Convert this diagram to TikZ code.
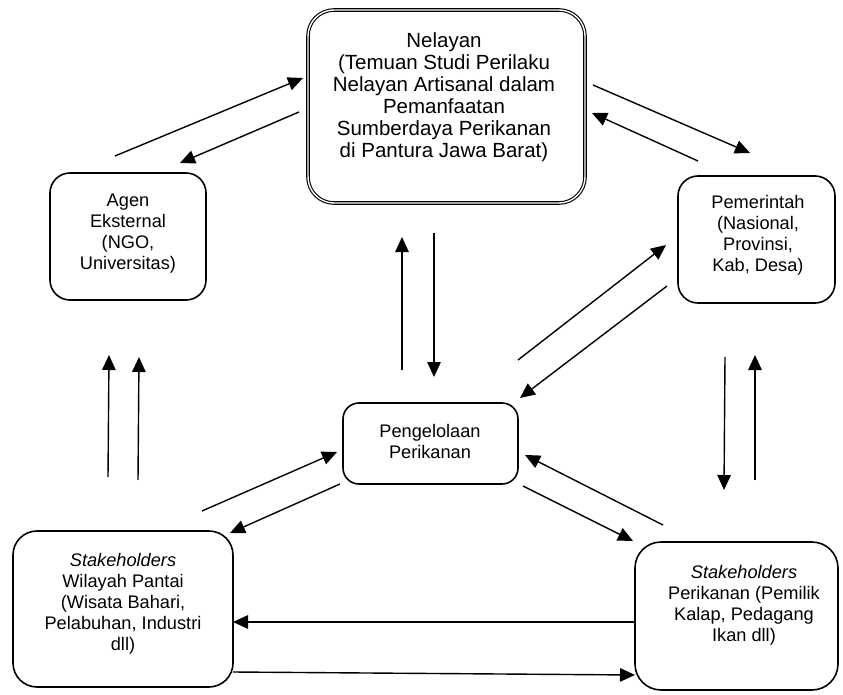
\documentclass[tikz,border=0pt]{standalone}
\usepackage{fontspec}
\setmainfont{Liberation Sans}
\usetikzlibrary{arrows.meta}
\begin{document}
\begin{tikzpicture}[x=1pt,y=-1pt,
  boxnode/.style={draw,line width=1.6pt,rounded corners=20pt,inner sep=0pt},
  txt/.style={align=center,inner sep=0pt,font=\fontsize{18.2}{21}\selectfont},
  bigtxt/.style={align=center,inner sep=0pt,font=\fontsize{20.5}{22}\selectfont},
  arr/.style={line width=1.4pt,-{Triangle[length=15pt,width=13.5pt]}}]
\useasboundingbox (0,0) rectangle (843,695);
% boxes
\node[boxnode,double,line width=1.1pt,double distance=1.4pt,rounded corners=26pt,minimum width=277pt,minimum height=193pt] (nel) at (446.5,106.5) {};
\node[boxnode,minimum width=156pt,minimum height=127pt] (agen) at (128,236.5) {};
\node[boxnode,minimum width=157pt,minimum height=127pt] (pem) at (756.5,239.5) {};
\node[boxnode,rounded corners=16pt,minimum width=175pt,minimum height=81pt] (peng) at (430.5,443.5) {};
\node[boxnode,rounded corners=24pt,minimum width=220pt,minimum height=156pt] (sbl) at (123,609) {};
\node[boxnode,rounded corners=26pt,minimum width=203pt,minimum height=148pt] (sbr) at (736.5,616) {};
% texts
\node[bigtxt] (nelT) at (444,97) {Nelayan\\(Temuan Studi Perilaku\\Nelayan Artisanal dalam\\Pemanfaatan\\Sumberdaya Perikanan\\di Pantura Jawa Barat)};
\node[txt] (agenT) at (128,234) {Agen\\Eksternal\\(NGO,\\Universitas)};
\node[txt] (pemT) at (758,235) {Pemerintah\\(Nasional,\\Provinsi,\\Kab, Desa)};
\node[txt] (pengT) at (430,441) {Pengelolaan\\Perikanan};
\node[txt] (sblT) at (123,604) {\textit{Stakeholders}\\Wilayah Pantai\\(Wisata Bahari,\\Pelabuhan, Industri\\dll)};
\node[txt] (sbrT) at (744,605) {\textit{Stakeholders}\\Perikanan (Pemilik\\Kalap, Pedagang\\Ikan dll)};
% arrow end points
\coordinate (a1s) at (115,156); \coordinate (a1e) at (303,78);
\coordinate (a2s) at (299,112); \coordinate (a2e) at (180,163);
\coordinate (a3s) at (593,85);  \coordinate (a3e) at (750,153);
\coordinate (a4s) at (698,161); \coordinate (a4e) at (592,113);
\coordinate (a5s) at (402,370); \coordinate (a5e) at (402,237);
\coordinate (a6s) at (434,233); \coordinate (a6e) at (434,377);
\coordinate (a7s) at (518,360); \coordinate (a7e) at (666,245);
\coordinate (a8s) at (667,286); \coordinate (a8e) at (520,398);
\coordinate (a9s) at (108,477); \coordinate (a9e) at (109,355);
\coordinate (a10s) at (138,480); \coordinate (a10e) at (139,357);
\coordinate (a11s) at (725,357); \coordinate (a11e) at (724,490);
\coordinate (a12s) at (755,480); \coordinate (a12e) at (755,355);
\coordinate (a13s) at (202,511); \coordinate (a13e) at (337,452);
\coordinate (a14s) at (340,484); \coordinate (a14e) at (230,533);
\coordinate (a15s) at (523,486); \coordinate (a15e) at (633,541);
\coordinate (a16s) at (663,525); \coordinate (a16e) at (525,455);
\coordinate (a17s) at (635,622); \coordinate (a17e) at (233,622);
\coordinate (a18s) at (233,672); \coordinate (a18e) at (635,675);
\foreach \i in {1,...,18} {\draw[arr] (a\i s) -- (a\i e);}
\end{tikzpicture}
\end{document}
